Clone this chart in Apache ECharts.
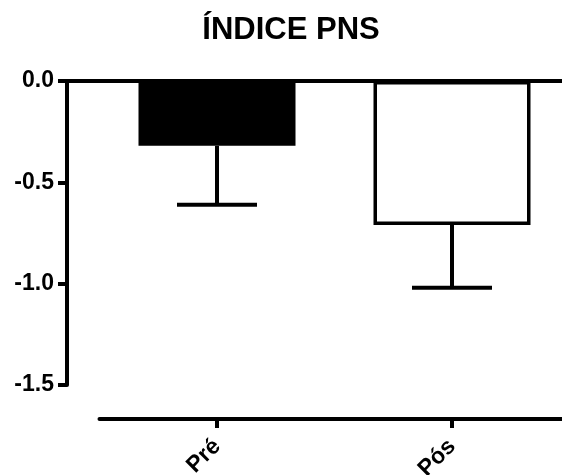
<!DOCTYPE html>
<html>
<head>
<meta charset="utf-8">
<script src="https://cdn.jsdelivr.net/npm/echarts@6/dist/echarts.min.js"></script>
<style>html,body{margin:0;padding:0;background:#fff}#c{width:562px;height:475px}</style>
</head>
<body>
<div id="c"></div>
<script>
var categories = ['Pré', 'Pós'];
var means = [-0.32, -0.71];
var sems = [0.29, 0.31];
var fills = ['#000000', '#ffffff'];
var yMin = -1.5, yMax = 0, yStep = 0.5;

var FONT = '"Liberation Sans", Arial, sans-serif';
var chart = echarts.init(document.getElementById('c'));
var lw = 4;

chart.setOption({
  backgroundColor: '#ffffff',
  animation: false,
  title: {
    text: 'ÍNDICE PNS',
    left: 286, top: 10, textAlign: 'center',
    textStyle: { fontFamily: FONT, fontWeight: 'bold', fontSize: 31, color: '#000' }
  },
  grid: [
    { left: 67, right: 0, top: 81, bottom: 90, outerBoundsMode: 'none', containLabel: false },
    { left: 99.5, width: 470, top: 81, bottom: 90, outerBoundsMode: 'none', containLabel: false }
  ],
  xAxis: [
    {
      gridIndex: 0, type: 'category', data: categories, position: 'top',
      axisLine: { show: true, onZero: false, lineStyle: { color: '#000', width: lw } },
      axisTick: { show: false }, axisLabel: { show: false }, splitLine: { show: false }
    },
    {
      gridIndex: 1, type: 'category', data: categories, position: 'bottom', offset: 34,
      axisLine: { show: true, onZero: false, lineStyle: { color: '#000', width: lw } },
      axisTick: { show: true, alignWithLabel: true, length: 9, lineStyle: { color: '#000', width: lw } },
      axisLabel: { rotate: 45, margin: 24, fontFamily: FONT, fontWeight: 'bold', fontSize: 23, color: '#000' },
      splitLine: { show: false }
    }
  ],
  yAxis: [
    {
      gridIndex: 0, type: 'value', min: yMin, max: yMax, interval: yStep,
      axisLine: { show: true, lineStyle: { color: '#000', width: lw } },
      axisTick: { show: true, length: 9, lineStyle: { color: '#000', width: lw } },
      axisLabel: { margin: 13, fontFamily: FONT, fontWeight: 'bold', fontSize: 23, color: '#000',
        formatter: function (v) { return v.toFixed(1); } },
      splitLine: { show: false }
    },
    {
      gridIndex: 1, type: 'value', min: yMin, max: yMax, interval: yStep, show: false
    }
  ],
  series: [
    {
      type: 'bar', xAxisIndex: 1, yAxisIndex: 1, barWidth: 157,
      data: means.map(function (m, i) {
        return { value: m, itemStyle: { color: fills[i], borderColor: '#000', borderWidth: 3.5 } };
      }),
      z: 2
    },
    {
      type: 'custom', xAxisIndex: 1, yAxisIndex: 1, z: 3,
      data: means.map(function (m, i) { return [i, m, m - sems[i]]; }),
      renderItem: function (params, api) {
        var p0 = api.coord([api.value(0), api.value(1)]);
        var p1 = api.coord([api.value(0), api.value(2)]);
        var hw = 40;
        var style = { stroke: '#000', lineWidth: lw };
        return {
          type: 'group',
          children: [
            { type: 'line', shape: { x1: p0[0], y1: p0[1], x2: p1[0], y2: p1[1] }, style: style },
            { type: 'line', shape: { x1: p1[0] - hw, y1: p1[1], x2: p1[0] + hw, y2: p1[1] }, style: style }
          ]
        };
      }
    }
  ]
});
</script>
</body>
</html>
